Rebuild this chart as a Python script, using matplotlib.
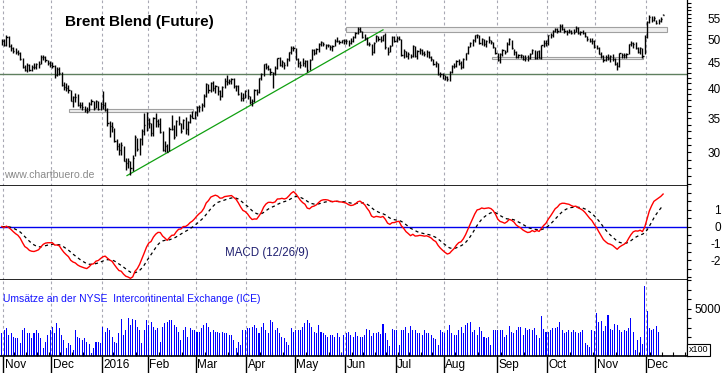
import numpy as np
import pandas as pd
import matplotlib
matplotlib.use("Agg")
import matplotlib.pyplot as plt
from matplotlib.patches import Rectangle
from matplotlib.ticker import FixedLocator, NullFormatter, FuncFormatter
import matplotlib.transforms as mtrans

plt.rcParams['font.family'] = ['Liberation Sans', 'DejaVu Sans']

# ---------------- data (daily, 30 Oct 2015 .. 12 Dec 2016) ----------------
month_len = [1, 21, 22, 20, 21, 22, 21, 22, 22, 21, 23, 22, 21, 22, 8]
month_labels = ['Nov', 'Dec', '2016', 'Feb', 'Mar', 'Apr', 'May', 'Jun',
                'Jul', 'Aug', 'Sep', 'Oct', 'Nov', 'Dec']

closes = [
    49.6,
    48.8, 50.5, 48.6, 48.0, 47.4, 47.2, 47.1, 45.8, 44.1, 43.6, 44.6, 43.6, 44.1, 44.2, 44.7, 44.8, 46.1, 46.2, 45.5, 44.9, 44.6,
    44.4, 42.5, 43.8, 43.0, 40.7, 40.3, 40.1, 39.7, 37.9, 38.5, 38.5, 37.2, 37.1, 36.9, 36.4, 36.1, 37.4, 37.9, 36.6, 37.8, 36.5, 37.3,
    37.2, 36.4, 34.2, 33.8, 33.6, 31.6, 30.9, 30.3, 31.0, 28.9, 28.6, 28.8, 27.9, 29.3, 32.2, 30.5, 31.8, 33.1, 33.9, 34.7,
    34.2, 32.7, 35.0, 34.5, 34.1, 32.9, 30.3, 30.8, 30.1, 33.4, 33.4, 32.2, 34.5, 34.3, 33.0, 34.7, 33.3, 34.4, 35.3, 35.1, 36.0,
    36.8, 36.9, 37.1, 38.7, 40.8, 39.7, 41.1, 40.1, 40.4, 39.5, 38.7, 40.3, 41.5, 41.2, 41.5, 41.8, 40.5, 40.4, 39.1, 38.3, 38.3, 39.6,
    38.7, 37.7, 37.9, 39.8, 39.4, 41.9, 42.8, 44.7, 44.2, 43.8, 43.1, 42.9, 44.0, 45.9, 44.5, 45.1, 44.5, 45.7, 47.2, 48.1, 48.1,
    45.8, 45.0, 44.6, 45.0, 45.4, 43.6, 45.5, 47.6, 47.1, 47.8, 49.0, 49.3, 48.9, 48.8, 48.7, 48.4, 48.6, 49.7, 49.6, 49.3, 49.8, 49.7,
    49.7, 49.2, 49.6, 50.6, 51.4, 52.5, 52.0, 50.5, 50.4, 49.0, 49.0, 47.2, 49.2, 50.7, 50.0, 49.9, 50.9, 48.4, 47.2, 48.6, 50.6, 49.7,
    50.4, 50.1, 46.6, 47.4, 46.4, 46.8, 46.3, 48.5, 46.3, 47.4, 47.6, 47.0, 46.7, 47.2, 46.2, 45.7, 44.7, 44.9, 42.7, 42.7, 42.5,
    42.1, 41.8, 43.1, 44.3, 44.3, 45.4, 45.0, 44.1, 45.7, 47.0, 48.4, 49.2, 49.9, 50.9, 50.9, 49.2, 50.0, 48.9, 49.7, 49.9, 49.3, 48.4, 47.0,
    45.5, 46.8, 47.6, 47.3, 49.0, 50.0, 48.0, 47.3, 46.1, 46.6, 46.6, 45.8, 46.0, 45.9, 46.8, 47.7, 45.9, 47.4, 46.0, 48.7, 49.2, 49.1,
    50.9, 50.9, 51.9, 52.5, 51.9, 53.1, 52.4, 52.0, 51.8, 52.0, 51.5, 51.7, 52.7, 51.4, 51.8, 51.5, 50.8, 50.0, 49.7, 49.7, 48.3,
    48.1, 46.9, 46.4, 45.6, 46.2, 46.0, 46.4, 45.8, 44.8, 44.4, 47.0, 46.6, 46.5, 46.9, 48.9, 49.1, 49.0, 48.0, 47.2, 48.0, 46.4, 50.5,
    54.0, 55.2, 54.6, 55.0, 53.9, 54.3, 54.9, 55.9,
]
highs = [
    50.1,
    50.0, 51.0, 50.8, 48.9, 48.3, 48.0, 47.6, 47.2, 46.0, 44.6, 44.9, 44.8, 44.5, 45.0, 45.0, 45.4, 46.5, 46.6, 46.4, 45.6, 45.3,
    45.2, 44.6, 44.2, 44.2, 43.2, 41.2, 41.0, 40.6, 39.8, 38.7, 39.2, 39.0, 37.6, 37.6, 37.0, 36.8, 37.6, 38.2, 37.9, 38.0, 37.9, 37.6,
    39.6, 37.6, 36.6, 34.5, 34.4, 33.5, 31.8, 31.3, 31.4, 30.9, 29.3, 29.3, 28.8, 29.7, 32.4, 32.0, 32.0, 33.4, 35.8, 36.0,
    35.0, 34.3, 35.2, 35.8, 34.8, 35.0, 33.0, 31.6, 31.2, 33.6, 35.5, 34.0, 34.7, 35.4, 34.3, 34.9, 35.2, 34.6, 35.6, 36.2, 36.2,
    37.0, 37.2, 37.5, 39.1, 41.0, 40.8, 41.2, 41.5, 40.6, 40.5, 39.8, 40.5, 41.9, 42.5, 41.8, 42.0, 41.9, 40.7, 40.6, 39.4, 39.2, 39.8,
    39.9, 38.7, 38.2, 40.0, 40.0, 42.0, 43.0, 44.8, 44.9, 44.6, 44.0, 43.2, 44.3, 46.0, 46.1, 45.5, 45.2, 46.0, 47.3, 48.5, 48.5,
    48.0, 46.0, 45.4, 45.9, 45.6, 45.5, 45.7, 47.8, 47.8, 48.0, 49.2, 49.6, 49.5, 49.0, 49.0, 48.8, 48.8, 50.0, 50.5, 49.9, 49.9, 50.1,
    50.0, 49.9, 50.2, 50.7, 51.6, 52.9, 52.9, 52.0, 51.2, 50.6, 49.4, 48.9, 49.5, 50.9, 50.7, 50.8, 51.0, 51.4, 48.4, 48.8, 50.8, 50.8,
    50.8, 50.8, 50.1, 47.8, 47.5, 47.2, 46.8, 48.7, 48.6, 47.6, 48.0, 47.8, 47.4, 47.6, 47.4, 46.4, 45.8, 45.3, 45.0, 43.1, 43.0,
    42.6, 42.3, 43.3, 44.5, 44.9, 45.6, 45.8, 45.4, 46.0, 47.1, 48.6, 49.5, 50.0, 51.0, 51.2, 51.1, 50.3, 50.0, 49.9, 50.8, 49.9, 49.5, 48.4,
    47.1, 47.0, 47.9, 47.7, 49.3, 50.2, 49.9, 47.8, 47.5, 46.9, 46.9, 46.6, 46.6, 46.5, 47.1, 47.9, 47.6, 47.5, 47.7, 48.8, 49.9, 49.8,
    51.1, 51.5, 52.1, 52.7, 52.7, 53.7, 53.5, 52.7, 52.1, 52.4, 52.2, 52.3, 53.1, 52.8, 52.0, 52.2, 51.6, 50.7, 50.3, 50.2, 49.9,
    48.8, 48.3, 47.3, 46.6, 46.5, 46.8, 46.6, 46.7, 45.9, 45.2, 47.1, 47.0, 47.0, 47.1, 49.0, 49.7, 49.4, 49.3, 48.2, 48.3, 48.0, 51.0,
    54.3, 55.7, 55.5, 55.6, 54.6, 54.7, 55.3, 56.0,
]
lows = [
    48.7,
    48.5, 48.6, 48.3, 47.5, 47.0, 46.8, 46.5, 45.6, 43.9, 43.3, 43.2, 43.4, 43.3, 43.8, 43.8, 44.0, 44.7, 45.6, 45.2, 44.5, 44.2,
    44.0, 42.0, 42.3, 42.6, 40.4, 39.8, 39.5, 39.2, 37.8, 36.8, 37.6, 37.0, 36.6, 36.3, 36.0, 35.9, 36.1, 37.1, 36.4, 36.6, 36.3, 36.4,
    36.5, 36.2, 33.8, 32.2, 32.9, 31.4, 30.3, 29.7, 29.7, 28.8, 27.7, 27.9, 27.1, 27.6, 29.5, 30.2, 29.7, 31.0, 32.5, 33.0,
    33.5, 32.3, 32.3, 33.7, 33.6, 32.7, 30.2, 30.0, 30.0, 30.2, 33.2, 31.8, 32.3, 33.9, 32.8, 33.3, 32.6, 32.4, 34.3, 35.0, 34.9,
    35.4, 36.0, 36.2, 36.8, 38.6, 39.2, 39.4, 39.6, 39.3, 38.8, 38.0, 38.6, 40.1, 40.6, 40.8, 40.9, 40.2, 39.5, 38.9, 37.9, 37.9, 38.3,
    38.1, 37.3, 37.0, 37.7, 38.9, 39.3, 41.6, 42.3, 43.8, 43.5, 42.5, 40.1, 42.5, 43.8, 44.3, 44.2, 43.8, 44.3, 45.4, 46.8, 47.5,
    45.5, 44.2, 43.9, 44.3, 44.2, 43.1, 43.5, 45.5, 46.6, 46.8, 47.3, 48.5, 48.5, 47.8, 48.2, 47.7, 47.5, 48.6, 49.3, 49.0, 49.2, 49.0,
    48.9, 48.6, 49.0, 49.5, 50.4, 51.3, 51.6, 50.3, 49.8, 48.8, 48.6, 46.6, 47.0, 49.3, 49.6, 49.5, 49.7, 47.8, 46.6, 47.2, 48.5, 49.4,
    49.5, 49.8, 46.4, 45.9, 46.2, 45.8, 45.9, 46.2, 46.1, 45.7, 46.7, 46.5, 46.3, 46.2, 46.0, 45.4, 44.5, 44.2, 42.6, 42.2, 41.7,
    41.6, 41.5, 41.5, 42.9, 43.9, 44.1, 44.6, 43.8, 43.9, 45.5, 46.9, 48.3, 48.6, 49.5, 50.2, 48.9, 48.8, 48.6, 48.4, 49.2, 48.9, 48.1, 46.8,
    45.3, 45.0, 46.3, 46.9, 47.2, 48.8, 47.8, 46.6, 46.0, 45.9, 45.9, 45.6, 45.3, 45.4, 45.8, 46.7, 45.7, 45.8, 45.9, 45.7, 48.4, 48.5,
    48.8, 50.3, 50.5, 51.6, 51.5, 51.7, 52.1, 51.4, 51.1, 51.4, 51.3, 51.3, 51.6, 51.2, 50.9, 51.3, 50.5, 49.6, 49.3, 49.0, 48.1,
    47.8, 46.7, 46.0, 45.2, 45.4, 45.6, 45.1, 45.3, 44.6, 43.6, 44.2, 45.9, 46.0, 45.9, 46.7, 48.5, 48.0, 47.8, 47.0, 46.9, 45.9, 46.8,
    50.4, 53.9, 54.0, 54.3, 53.5, 53.6, 54.1, 55.8,
]
# volume in units of 100 contracts
volumes = [
    2400,
    2750, 2900, 2200, 2400, 2050, 1900, 1850, 1350, 2750, 2900, 2400, 2400, 1850, 2400, 2700, 2400, 1850, 800, 1500, 2200, 2750,
    3100, 2400, 3450, 2900, 2200, 1700, 810, 1330, 1160, 630, 2740, 2030, 1860, 1680, 1860, 1500, 1300, 280, 810, 1500, 1500, 1330,
    3100, 2570, 2900, 2740, 2030, 1500, 1330, 2390, 3850, 2210, 2740, 3960, 3260, 3850, 3790, 3090, 2740, 1330, 2740, 3790,
    3260, 3610, 3090, 2740, 2910, 1510, 3090, 3440, 3610, 3790, 3790, 3260, 3090, 2560, 1680, 2740, 3090, 2030, 2910, 2740, 2740,
    2560, 2560, 2910, 3260, 3440, 3090, 2560, 2740, 2560, 2560, 2390, 2560, 2390, 2390, 2210, 2210, 1680, 800, 1510, 1200, 2740, 2740,
    2910, 2910, 3090, 3260, 2910, 2390, 3090, 3440, 2740, 2390, 3790, 3610, 2740, 2910, 2390, 2030, 1860, 1510, 1160, 2910, 2560,
    2740, 2740, 2740, 3090, 3440, 3790, 3440, 3090, 2560, 2390, 3260, 2560, 2390, 2210, 2030, 2210, 2210, 2030, 2390, 2030, 280, 2210,
    2390, 2560, 2210, 2030, 2560, 2100, 2030, 2030, 2210, 2800, 2740, 2100, 2390, 2460, 2560, 2320, 3360, 2390, 1680, 1050, 2800, 2740,
    2740, 1160, 2740, 2740, 3090, 2390, 3180, 2740, 2740, 2420, 2390, 2210, 2740, 2390, 2420, 2210, 1860, 1760, 1160, 2740, 2560,
    2390, 2740, 3260, 2390, 2210, 2210, 2740, 3090, 2390, 3260, 3500, 3610, 2560, 2740, 2210, 3090, 2670, 2030, 1860, 2030, 1160, 2740, 2740,
    2740, 2740, 2740, 2030, 2210, 3180, 2560, 2460, 2740, 3090, 3090, 2210, 2910, 2740, 2810, 2740, 2910, 2210, 1860, 4210, 2810, 2560,
    2560, 2740, 2910, 2910, 3090, 3610, 2740, 2390, 2560, 2740, 2560, 2740, 2560, 2390, 2560, 2740, 1330, 1160, 980, 2740, 2600,
    4500, 3610, 3700, 2630, 3190, 4320, 2840, 2740, 3330, 3260, 2740, 2560, 2740, 2600, 2910, 4040, 2560, 630, 1680, 2030, 1230, 7370,
    4700, 2910, 2740, 2840, 3190, 2560, 0, 0,
]
# chart annotations (index / price)
support_level = 42.7
trend_x = [54.5, 166.0]
trend_y = [27.0, 52.2]
zones = [(29.2, 83.3, 35.95, 36.44), (149.9, 289.7, 51.6, 52.8), (213.5, 279.2, 45.7, 46.24)]

# ---------------- derived ----------------
n = len(closes)
x = np.arange(n)
dates = pd.bdate_range('2015-10-30', '2016-12-12')
dates = dates[~dates.isin(pd.to_datetime(['2015-12-25', '2016-01-01', '2016-03-25']))]
mondays = [i for i, d in enumerate(dates) if d.weekday() == 0]
mondays += [mondays[-1] + 5, mondays[-1] + 10]
starts = np.cumsum([0] + month_len[:-1])[1:]  # first trading day of each month (Nov 2015 ...)

s = pd.Series(closes)
macd = s.ewm(span=12, adjust=False).mean() - s.ewm(span=26, adjust=False).mean()
signal = macd.ewm(span=9, adjust=False).mean()

# ---------------- figure ----------------
W, H = 723, 373
fig = plt.figure(figsize=(W / 100, H / 100), dpi=100)
def rect(top, bottom):
    return [0, (H - bottom) / H, 687 / W, (bottom - top) / H]
axp = fig.add_axes(rect(0, 186))
axm = fig.add_axes(rect(186, 280), sharex=axp)
axv = fig.add_axes(rect(280, 356), sharex=axp)

px = 2.296
xl = (0.5 - 3 / px, 0.5 + 684 / px)
axp.set_xlim(*xl)

grid_kw = dict(color='#a8a8b4', lw=0.8, ls=(0, (2.5, 2.5)), zorder=0)
for ax in (axp, axm, axv):
    for st in starts:
        ax.axvline(st - 0.5, **grid_kw)
    for sp in ('left', 'top'):
        ax.spines[sp].set_visible(False)
    ax.spines['right'].set_linewidth(0.9)
    ax.spines['bottom'].set_linewidth(1.2)
    ax.yaxis.tick_right()
    ax.tick_params(axis='y', which='both', direction='out', length=3, width=0.8,
                   pad=21.5, labelsize=8.5)
    ax.set_facecolor('white')

# ---- price panel
axp.set_yscale('log')
axp.set_ylim(25.76, 59.74)
axp.yaxis.set_major_locator(FixedLocator([30, 35, 40, 45, 50, 55]))
axp.yaxis.set_minor_locator(FixedLocator(list(range(26, 60))))
axp.yaxis.set_major_formatter(FuncFormatter(lambda v, p: f'{v:.0f}'))
axp.yaxis.set_minor_formatter(NullFormatter())
axp.tick_params(axis='x', which='both', length=0, labelbottom=False)

axp.axhline(support_level, color='#5f7f5f', lw=1.0, zorder=1)
for x0, x1, y0, y1 in zones:
    axp.add_patch(Rectangle((x0, y0), x1 - x0, y1 - y0, facecolor='#eeeeee',
                            edgecolor='#a0a0a0', lw=0.8, zorder=1))
axp.plot(trend_x, trend_y, color='#10a010', lw=0.9, zorder=2)
axp.vlines(x, lows, highs, color='black', lw=1.0, zorder=3)
axp.hlines(closes, x, x + 0.5, color='black', lw=1.0, zorder=3)

axp.text(65 / 687, 1 - 22 / 186, 'Brent Blend (Future)', transform=axp.transAxes,
         fontsize=11, fontweight='bold', color='black', ha='left', va='center')
axp.text(4 / 687, 1 - 175 / 186, 'www.chartbuero.de', transform=axp.transAxes,
         fontsize=7.6, color='#8a8a8a', ha='left', va='center')

# ---- MACD panel
axm.set_ylim(-3.18, 2.41)
axm.yaxis.set_major_locator(FixedLocator([-2, -1, 0, 1]))
axm.yaxis.set_minor_locator(FixedLocator(list(np.arange(-3, 2.01, 0.5))))
axm.yaxis.set_major_formatter(FuncFormatter(lambda v, p: f'{v:.0f}'))
axm.tick_params(axis='x', which='both', length=0, labelbottom=False)
axm.axhline(0, color='#0000ee', lw=1.0, zorder=1)
axm.plot(x, signal, color='black', lw=0.9, ls=(0, (2.5, 2.5)), zorder=2)
axm.plot(x, macd, color='#ff0000', lw=1.0, zorder=3)
axm.text(225 / 687, (280 - 253) / 94, 'MACD (12/26/9)', transform=axm.transAxes,
         fontsize=8.3, color='#202070', ha='left', va='center')

# ---- volume panel
axv.set_ylim(0, 8000)
axv.bar(x, volumes, width=0.45, color='#0000ff', zorder=2)
axv.yaxis.set_major_locator(FixedLocator([5000]))
axv.yaxis.set_minor_locator(FixedLocator(list(range(0, 8001, 1000))))
axv.yaxis.set_major_formatter(FuncFormatter(lambda v, p: f'{v:.0f}'))
axv.text(3 / 687, (356 - 299) / 76, 'Umsätze an der NYSE  Intercontinental Exchange (ICE)',
         transform=axv.transAxes, fontsize=7.5, color='#1414ff', ha='left', va='center')

axv.xaxis.set_major_locator(FixedLocator([st - 0.5 for st in starts]))
axv.xaxis.set_minor_locator(FixedLocator([m - 0.5 for m in mondays]))
axv.xaxis.set_major_formatter(NullFormatter())
axv.tick_params(axis='x', which='major', direction='out', length=12.2, width=1.0)
axv.tick_params(axis='x', which='minor', direction='in', length=3, width=0.8)
trans = mtrans.blended_transform_factory(axv.transData, axv.transAxes)
for st, lab in zip(starts, month_labels):
    axv.text(st - 0.5 + 0.7, -0.118, lab, transform=trans, fontsize=8.5,
             ha='left', va='center', clip_on=False)

for ax in (axp, axm, axv):
    for lab in ax.get_yticklabels():
        lab.set_ha('right')

fig.text(698.5 / W, (H - 350) / H, 'x100', fontsize=6.5, ha='center', va='center',
         bbox=dict(boxstyle='square,pad=0.15', facecolor='white', edgecolor='black', lw=0.8))

fig.savefig('out.png', dpi=100)
